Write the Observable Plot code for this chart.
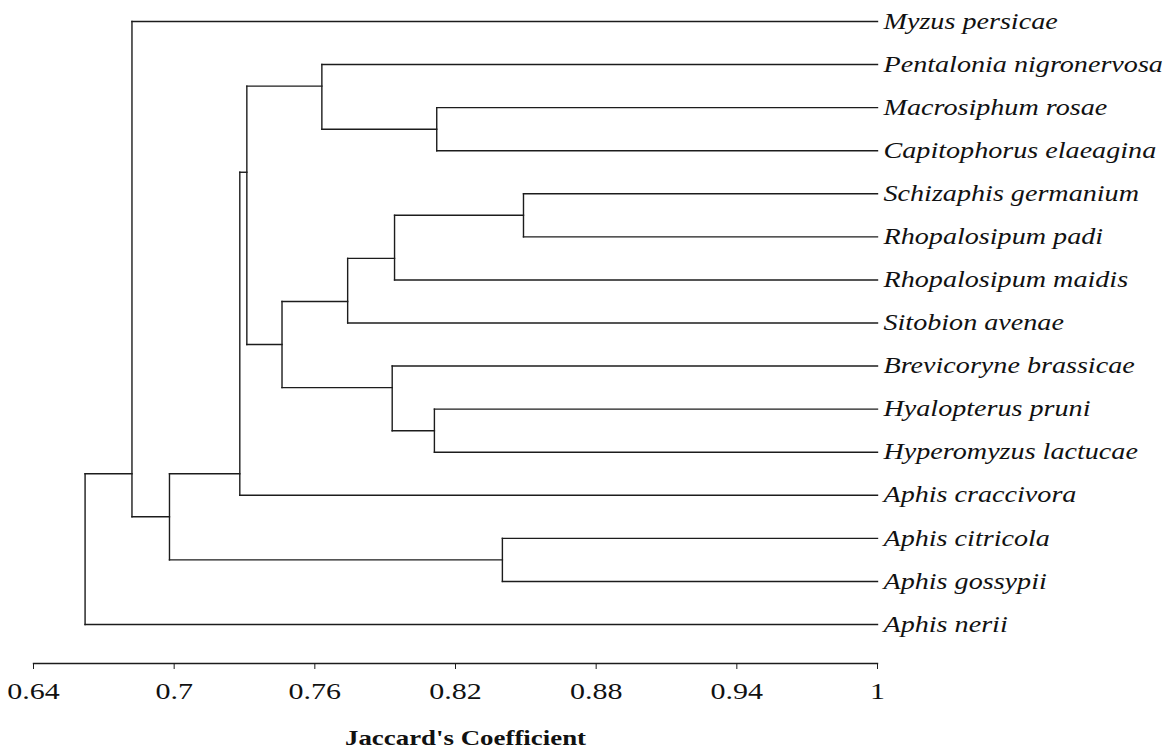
<!DOCTYPE html>
<html><head><meta charset="utf-8">
<script src="https://cdn.jsdelivr.net/npm/d3@7"></script>
<script src="https://cdn.jsdelivr.net/npm/@observablehq/plot@0.6"></script>
<style>html,body{margin:0;padding:0;background:#fff} svg{display:block}</style>
</head><body><div id="chart"></div>
<script>
// Leaves, top to bottom
const leaves = [
  "Myzus persicae","Pentalonia nigronervosa","Macrosiphum rosae","Capitophorus elaeagina",
  "Schizaphis germanium","Rhopalosipum padi","Rhopalosipum maidis","Sitobion avenae",
  "Brevicoryne brassicae","Hyalopterus pruni","Hyperomyzus lactucae","Aphis craccivora",
  "Aphis citricola","Aphis gossypii","Aphis nerii"
];
const leafCoef = 1;
// Internal nodes (clusters)
const nodeIds    = ["A","B","C","D","E","F","G","H","I","J","K","L","M","R"];
const nodeCoef   = [0.812,0.763,0.849,0.794,0.774,0.811,0.793,0.746,0.731,0.728,0.840,0.698,0.682,0.662];
const nodeLeft   = ["Macrosiphum rosae","Pentalonia nigronervosa","Schizaphis germanium","C","D","Hyalopterus pruni","Brevicoryne brassicae","E","B","I","Aphis citricola","J","Myzus persicae","M"];
const nodeRight  = ["Capitophorus elaeagina","A","Rhopalosipum padi","Rhopalosipum maidis","Sitobion avenae","Hyperomyzus lactucae","F","G","H","Aphis craccivora","Aphis gossypii","K","L","Aphis nerii"];
// row (in leaf-order units) where each cluster's stem joins its parent
const nodeRow    = [2.5,1.5,4.5,5.5,6.5,9.5,8.5,7.5,3.5,10.5,12.5,11.5,10.5,null];
const tickValues = [0.64,0.7,0.76,0.82,0.88,0.94,1];
const xLabel = "Jaccard's Coefficient";

// Build lookup and segments
const pos = {};
leaves.forEach((name, i) => pos[name] = {coef: leafCoef, row: i});
nodeIds.forEach((id, k) => pos[id] = {coef: nodeCoef[k], row: nodeRow[k]});
const segments = [];
nodeIds.forEach((id, k) => {
  const c = nodeCoef[k], a = pos[nodeLeft[k]], b = pos[nodeRight[k]];
  segments.push({x1: c, x2: c, y1: a.row, y2: b.row});
  segments.push({x1: c, x2: a.coef, y1: a.row, y2: a.row});
  segments.push({x1: c, x2: b.coef, y1: b.row, y2: b.row});
});

const chart = Plot.plot({
  width: 1173, height: 751,
  marginLeft: 33, marginRight: 296, marginTop: 21, marginBottom: 88,
  x: {domain: [0.64, 1]},
  y: {domain: [0, leaves.length - 1], range: [21, 624], axis: null},
  style: {fontFamily: "'Liberation Serif','Times New Roman',serif", fontSize: "21px", color: "#111", background: "#fff"},
  marks: [
    Plot.link(segments, {x1: "x1", y1: "y1", x2: "x2", y2: "y2", stroke: "#1c1c1c", strokeWidth: 1.4, strokeLinecap: "square"}),
    Plot.text(leaves, {x: () => leafCoef, y: (d, i) => i, text: d => d, textAnchor: "start", dx: 6, fontStyle: "italic", fontSize: 22.5, fill: "#111"}),
    Plot.frame({anchor: "bottom", stroke: "#1c1c1c", strokeWidth: 1.4}),
    Plot.axisX({ticks: tickValues, tickFormat: d => String(d), tickSize: 6, tickPadding: 12, fontSize: 24, label: null, stroke: "#1c1c1c"}),
    Plot.text([xLabel], {frameAnchor: "bottom", lineAnchor: "middle", dy: 75, dx: 10, fontWeight: "bold", fontSize: 21.5, fill: "#111"})
  ]
});
document.getElementById("chart").append(chart);
// The reference typography is horizontally wide; stretch glyphs to match
const STRETCH = 1.25;
chart.querySelectorAll("text").forEach(t => {
  const len = t.getComputedTextLength();
  if (len > 0) {
    t.setAttribute("textLength", (len * STRETCH).toFixed(1));
    t.setAttribute("lengthAdjust", "spacingAndGlyphs");
  }
});
</script>
</body></html>
